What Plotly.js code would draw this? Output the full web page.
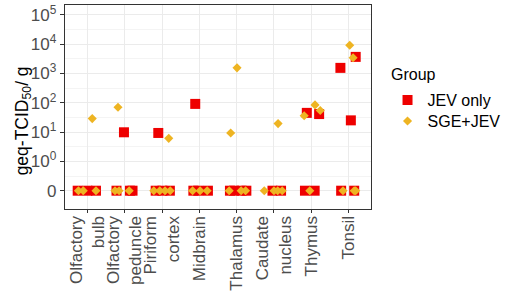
<!DOCTYPE html>
<html>
<head>
<meta charset="utf-8">
<script src="https://cdn.plot.ly/plotly-3.0.1.min.js"></script>
<style>html,body{margin:0;padding:0;background:#fff;}#chart{width:510px;height:294px;}</style>
</head>
<body>
<div id="chart"></div>
<script>
// Tissue categories (x axis tick labels)
const categories = ["Olfactory<br>bulb", "Olfactory<br>peduncle", "Piriform<br>cortex", "Midbrain",
                    "Thalamus", "Caudate<br>nucleus", "Thymus", "Tonsil"];

// y tick values (log10 scale, 0 shown one decade below 10^0) and labels
const yTickVals = [-1, 0, 1, 2, 3, 4, 5];
const yTickText = ["0", "10<sup>0</sup>", "10<sup>1</sup>", "10<sup>2</sup>", "10<sup>3</sup>", "10<sup>4</sup>", "10<sup>5</sup>"];

// JEV only: tissue index, value (geq-TCID50/g), horizontal jitter
const jevTissue = [0,0,0, 1,1,1,1, 2,2,2,2, 3,3,3,3, 4,4,4,4, 5,5, 6,6,6,6, 7,7,7,7,7];
const jevValue  = [0,0,0, 9.8,0,0,0, 9.3,0,0,0, 91,0,0,0, 0,0,0,0, 0,0, 45,41,0,0, 1540,3650,25,0,0];
const jevJitter = [-0.26,0,0.23, -0.02,-0.22,0.14,0.21, -0.10,-0.17,0.01,0.21, -0.11,-0.16,-0.03,0.23,
                   -0.18,-0.07,0.13,0.26, -0.04,0.19, -0.12,0.21,-0.17,0.09, -0.22,0.19,0.06,-0.20,0.15];

// SGE+JEV
const sgeTissue = [0,0,0,0, 1,1,1,1, 2,2,2,2,2, 3,3,3, 4,4,4,4,4, 5,5,5,5,5, 6,6,6,6, 7,7,7,7,7];
const sgeValue  = [28.7,0,0,0, 70,0,0,0, 6.1,0,0,0,0, 0,0,0, 1540,9.3,0,0,0, 19.4,0,0,0,0, 36,84,54,0, 9100,3400,0,0,0];
const sgeJitter = [0.13,-0.24,-0.11,0.23, -0.18,-0.26,-0.15,0.12, 0.18,-0.22,-0.06,0.08,0.22,
                   -0.18,0.02,0.21, 0.01,-0.16,-0.20,0.12,0.24, 0.11,-0.26,0,0.10,0.22,
                   -0.19,0.10,0.24,-0.04, 0.03,0.12,-0.15,0.15,0.19];

const toY = v => v > 0 ? Math.log10(v) : -1;
const fontFam = "Liberation Sans, Arial, sans-serif";

const traces = [
  {
    type: "scatter", mode: "markers", name: "JEV only", legend: "legend",
    x: jevTissue.map((t, i) => t + jevJitter[i]),
    y: jevValue.map(toY),
    marker: {symbol: "square", size: 10, color: "#EE0000"},
    hoverinfo: "skip"
  },
  {
    type: "scatter", mode: "markers", name: "SGE+JEV", legend: "legend2",
    x: sgeTissue.map((t, i) => t + sgeJitter[i]),
    y: sgeValue.map(toY),
    marker: {symbol: "diamond", size: 7, color: "#EEB422"},
    hoverinfo: "skip"
  }
];

const legendBase = {
  x: 1.054, xanchor: "left", yanchor: "middle",
  font: {size: 16, color: "#000"}, bgcolor: "rgba(0,0,0,0)"
};

const layout = {
  width: 510, height: 294,
  margin: {l: 65, r: 128, t: 5, b: 85},
  paper_bgcolor: "#fff", plot_bgcolor: "#fff",
  font: {family: fontFam, size: 16, color: "#000"},
  showlegend: true,
  legend: Object.assign({}, legendBase, {y: 0.534}),
  legend2: Object.assign({}, legendBase, {y: 0.431}),
  annotations: [
    {text: "Group", xref: "paper", yref: "paper", x: 1.06, y: 0.657,
     xanchor: "left", yanchor: "middle", showarrow: false, font: {size: 16, color: "#000"}},
    {text: "geq-TCID<sub>50</sub>/ g", xref: "paper", yref: "paper", x: -0.137, y: 0.43,
     xanchor: "center", yanchor: "middle", textangle: -90, showarrow: false,
     font: {size: 17.5, color: "#000"}}
  ],
  xaxis: {
    range: [-0.6, 7.6], tickmode: "array",
    tickvals: categories.map((c, i) => i), ticktext: categories,
    tickangle: -90, showgrid: true, gridcolor: "#EBEBEB", gridwidth: 1,
    zeroline: false, showline: true, linecolor: "#333333", linewidth: 1.2, mirror: true,
    ticks: "outside", ticklen: 3, tickcolor: "#333333",
    ticklabelstandoff: -4,
    tickfont: {size: 17, color: "#4D4D4D"}
  },
  yaxis: {
    range: [-1.624, 5.331], tickmode: "array",
    tickvals: yTickVals, ticktext: yTickText,
    showgrid: true, gridcolor: "#EBEBEB", gridwidth: 1,
    minor: {tickmode: "array", tickvals: [-0.5, 0.5, 1.5, 2.5, 3.5, 4.5], showgrid: true, gridcolor: "#F0F0F0", gridwidth: 0.7, ticks: ""},
    zeroline: false, showline: true, linecolor: "#333333", linewidth: 1.2, mirror: true,
    ticks: "outside", ticklen: 4, tickcolor: "#333333",
    tickfont: {size: 17, color: "#4D4D4D"}
  }
};

Plotly.newPlot("chart", traces, layout, {staticPlot: true, displayModeBar: false});
</script>
</body>
</html>
